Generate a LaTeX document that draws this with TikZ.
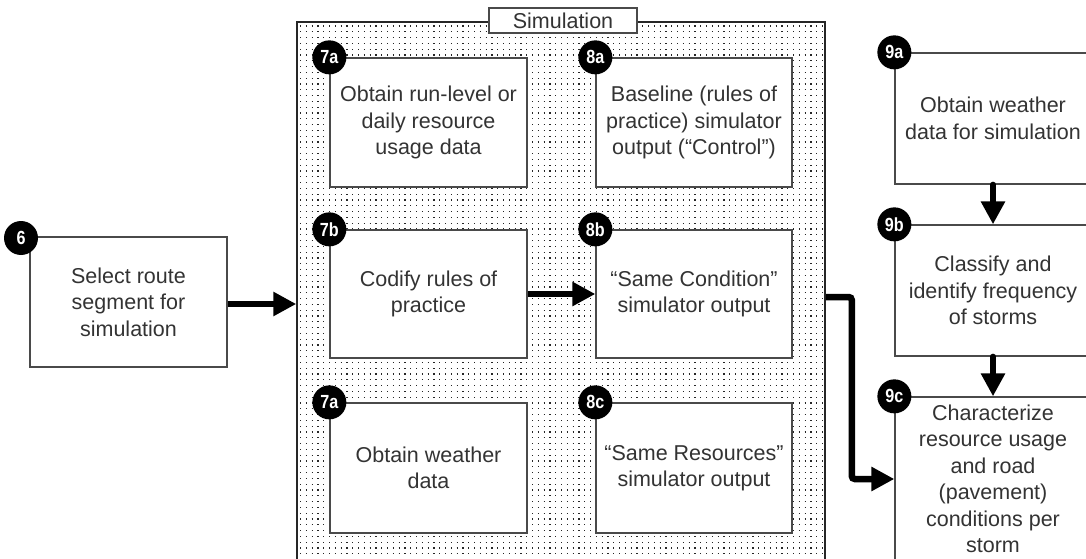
\documentclass[tikz,border=0pt]{standalone}
\usepackage{fontspec}
\setmainfont{Liberation Sans}
\usepackage{graphicx}
\usetikzlibrary{arrows.meta}
\definecolor{txt}{HTML}{333333}
\definecolor{bord}{HTML}{4A4A4A}
\begin{document}
\begin{tikzpicture}[x=1pt,y=-1pt,
  box/.style={draw=bord, line width=1.3pt, fill=white, inner sep=0pt, align=center, text=txt,
    font=\fontsize{21.5}{26.5}\selectfont},
  bw/.style={minimum width=197pt, minimum height=130pt},
  badge/.style={circle, fill=black, minimum size=34pt, inner sep=0pt, text=white,
    font=\bfseries\fontsize{19}{19}\selectfont},
  arr/.style={line width=6.5pt, -{Triangle[length=23pt,width=23pt]}},
  dotrow/.style={black!85, line width=1.1pt, dash pattern=on 1.1pt off 4.7pt},
]
\useasboundingbox (0,0) rectangle (1086,559);
\clip (0,0) rectangle (1086,559);
% simulation area
\node[draw=black!85, line width=1.5pt, fill=white, inner sep=0pt, minimum width=528pt, minimum height=553pt] (sim) at (561,298.5) {};
\begin{scope}
  \clip (sim.south west) rectangle (sim.north east);
  \foreach \yy in {26,31.8,...,562} \draw[dotrow] (300,\yy) -- (826,\yy);
\end{scope}
\node[box, minimum width=148pt, minimum height=25pt] (simlab) at (563,20.5) {Simulation};
% boxes
\node[box, bw] (b6) at (128.5,302) {Select route\\segment for\\simulation};
\node[box, bw, minimum height=129pt] (b7a) at (428.5,122.5) {Obtain run-level or\\daily resource\\usage data};
\node[box, minimum width=196pt, minimum height=129pt] (b8a) at (694,122.5) {Baseline (rules of\\practice) simulator\\output (“Control”)};
\node[box, bw, minimum height=128pt] (b7b) at (428.5,294) {Codify rules of\\practice};
\node[box, minimum width=196pt, minimum height=128pt] (b8b) at (694,294) {“Same Condition”\\simulator output};
\node[box, bw] (b7c) at (428.5,468) {Obtain weather\\data};
\node[box, minimum width=196pt, minimum height=130pt] (b8c) at (694,468) {“Same Resources”\\simulator output};
\node[box, minimum width=196pt, minimum height=131pt] (b9a) at (993,118.5) {Obtain weather\\data for simulation};
\node[box, minimum width=196pt, minimum height=131pt] (b9b) at (993,290.5) {Classify and\\identify frequency\\of storms};
\node[box, minimum width=196pt, minimum height=164pt] (b9c) at (993,479) {Characterize\\resource usage\\and road\\(pavement)\\conditions per\\storm};
% badges
\node[badge] (n6) at (21,238) {\scalebox{0.85}[1]{6}};
\node[badge] (n7a) at (b7a.north west) {\scalebox{0.85}[1]{7a}};
\node[badge] (n8a) at (b8a.north west) {\scalebox{0.85}[1]{8a}};
\node[badge] (n7b) at (b7b.north west) {\scalebox{0.85}[1]{7b}};
\node[badge] (n8b) at (b8b.north west) {\scalebox{0.85}[1]{8b}};
\node[badge] (n7c) at (b7c.north west) {\scalebox{0.85}[1]{7a}};
\node[badge] (n8c) at (b8c.north west) {\scalebox{0.85}[1]{8c}};
\node[badge] (n9a) at (b9a.north west) {\scalebox{0.85}[1]{9a}};
\node[badge] (n9b) at (b9b.north west) {\scalebox{0.85}[1]{9b}};
\node[badge] (n9c) at (b9c.north west) {\scalebox{0.85}[1]{9c}};
% arrows
\draw[arr] ([yshift=-2pt]b6.east) -- ([yshift=-2pt]b6.east -| sim.west);
\draw[arr] (b7b.east) -- (b8b.west);
\draw[arr, line width=6pt, line cap=round] (b9a.south) -- (b9b.north);
\draw[arr, line width=6pt, line cap=round] (b9b.south) -- (b9c.north);
\draw[arr, rounded corners=3pt] ([yshift=-3pt]b8b.east -| sim.east) -- ++(26,0) |- (b9c.west);
\end{tikzpicture}
\end{document}
